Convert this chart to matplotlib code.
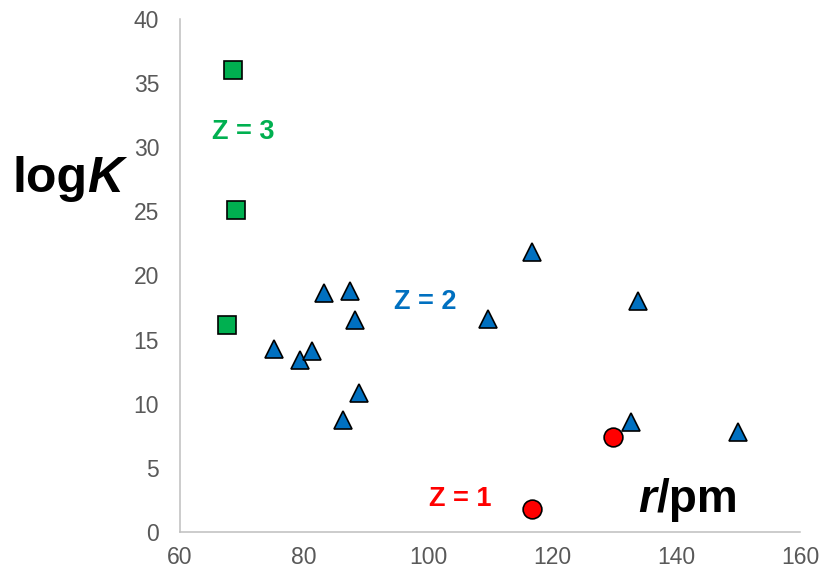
import matplotlib.pyplot as plt

plt.rcParams['font.family'] = ['Liberation Sans', 'DejaVu Sans']

# Ionic radius r (pm) and stability constant log K, grouped by charge Z
z3_r = [68.6, 69.1, 67.6]
z3_logk = [36.0, 25.1, 16.1]

z2_r = [75.2, 79.3, 81.3, 83.3, 87.4, 88.3, 86.3, 88.9,
        109.6, 116.7, 133.9, 132.8, 150.0]
z2_logk = [14.3, 13.4, 14.1, 18.6, 18.8, 16.5, 8.7, 10.8,
           16.6, 21.8, 18.0, 8.6, 7.8]

z1_r = [129.8, 116.7]
z1_logk = [7.4, 1.8]

x_ticks = [60, 80, 100, 120, 140, 160]
y_ticks = [0, 5, 10, 15, 20, 25, 30, 35, 40]

GREEN = '#00B050'
BLUE = '#0070C0'
RED = '#FF0000'


def two_part_label(fig, x, y, first, second, size, first_style, second_style):
  """Bold figure label whose two halves use different slants."""
  t1 = fig.text(x, y, first, color='black', fontsize=size, fontweight='bold',
                fontstyle=first_style, ha='left', va='baseline')
  fig.axes[0].annotate(second, xy=(1, 0), xycoords=t1, color='black',
                       fontsize=size, fontweight='bold',
                       fontstyle=second_style, ha='left', va='bottom')


fig, ax = plt.subplots(figsize=(8.29, 5.7), dpi=100)
fig.subplots_adjust(left=0.2171, right=0.965, bottom=0.0667, top=0.967)

mk = dict(linestyle='none', markeredgecolor='black', markeredgewidth=1.2)
ax.plot(z3_r, z3_logk, 's', ms=13, markerfacecolor=GREEN, **mk)
ax.plot(z2_r, z2_logk, '^', ms=13.5, markerfacecolor=BLUE, **mk)
ax.plot(z1_r, z1_logk, 'o', ms=13.5, markerfacecolor=RED, **mk)

ax.set_xlim(60, 160)
ax.set_ylim(0, 40)
ax.set_xticks(x_ticks)
ax.set_yticks(y_ticks)
ax.tick_params(length=0, labelsize=16.5, labelcolor='#595959')
ax.tick_params(axis='x', pad=10)
ax.tick_params(axis='y', pad=15)

for side in ['top', 'right']:
  ax.spines[side].set_visible(False)
for side in ['left', 'bottom']:
  ax.spines[side].set_color('#BFBFBF')
  ax.spines[side].set_linewidth(1.1)

# Group labels inside the plot
ax.text(70.2, 31.2, 'Z = 3', color=GREEN, fontsize=19.5, fontweight='bold',
        ha='center', va='center')
ax.text(99.6, 17.9, 'Z = 2', color=BLUE, fontsize=19.5, fontweight='bold',
        ha='center', va='center')
ax.text(105.2, 2.6, 'Z = 1', color=RED, fontsize=19.5, fontweight='bold',
        ha='center', va='center')

# Axis titles placed freely on the figure
two_part_label(fig, 0.015, 0.664, 'log', 'K', 36, 'normal', 'italic')
two_part_label(fig, 0.770, 0.102, 'r', '/pm', 33, 'italic', 'normal')

plt.savefig('out.png', dpi=100)
plt.close()
